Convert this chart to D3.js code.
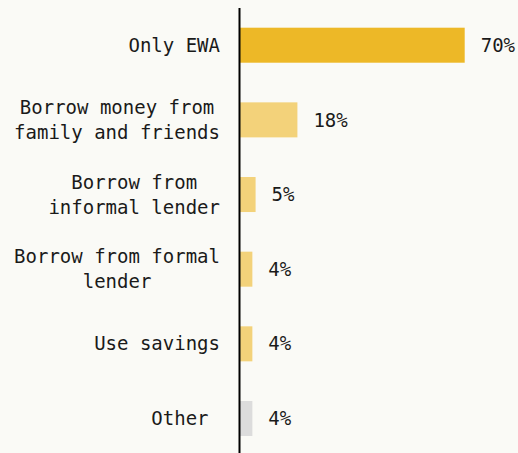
<!DOCTYPE html>
<html>
<head>
<meta charset="utf-8">
<script src="https://cdn.jsdelivr.net/npm/d3@7"></script>
<style>
  html, body { margin: 0; padding: 0; background: #fafaf6; }
  svg { display: block; }
  text { font-family: "DejaVu Sans Mono", "Liberation Mono", monospace; font-size: 19px; fill: #1a1a1a; white-space: pre; }
</style>
</head>
<body>
<svg id="chart" width="518" height="453"></svg>
<script>
// Responses, each label split into its display lines
const categories = [
  ["Only EWA"],
  ["Borrow money from", "family and friends"],
  ["Borrow from", "informal lender"],
  ["Borrow from formal", "lender"],
  ["Use savings"],
  ["Other "]
];
const values = [70, 18, 5, 4, 4, 4];
const valueLabels = ["70%", "18%", "5%", "4%", "4%", "4%"];
const barColors = ["#edb827", "#f3d27a", "#f3d27a", "#f3d27a", "#f3d27a", "#dcdcdc"];

const width = 518, height = 453;
const svg = d3.select("#chart");

const rows = categories.map((lines, i) => ({ lines, value: values[i], label: valueLabels[i], color: barColors[i], key: i }));

const x = d3.scaleLinear().domain([0, 70]).range([239.5, 464.7]);
const y = d3.scaleBand().domain(rows.map(d => d.key)).range([27.7, 436]).paddingInner(0.531).paddingOuter(0);

// bars
svg.append("g").selectAll("rect").data(rows).join("rect")
  .attr("x", x(0))
  .attr("y", d => y(d.key))
  .attr("width", d => x(d.value) - x(0))
  .attr("height", y.bandwidth())
  .attr("fill", d => d.color);

// value labels
svg.append("g").selectAll("text").data(rows).join("text")
  .attr("x", d => x(d.value) + 16)
  .attr("y", d => y(d.key) + y.bandwidth() / 2)
  .attr("dy", "0.35em")
  .text(d => d.label);

// category labels: block right-aligned to the axis, lines centred within the block
const lineH = 25;
const labelRight = 220;
const labelG = svg.append("g");
rows.forEach(d => {
  const n = d.lines.length;
  const cy = y(d.key) + y.bandwidth() / 2;
  const t = labelG.append("text").attr("text-anchor", "middle");
  const spans = d.lines.map((line, j) => t.append("tspan")
    .attr("y", cy - (n - 1) * lineH / 2 + j * lineH)
    .attr("dy", "0.35em")
    .text(line));
  const maxW = d3.max(spans, s => s.node().getComputedTextLength());
  const cx = labelRight - maxW / 2;
  spans.forEach(s => s.attr("x", cx));
});

// baseline axis
svg.append("line")
  .attr("x1", x(0)).attr("x2", x(0))
  .attr("y1", 8).attr("y2", height)
  .attr("stroke", "#000").attr("stroke-width", 2);
</script>
</body>
</html>
